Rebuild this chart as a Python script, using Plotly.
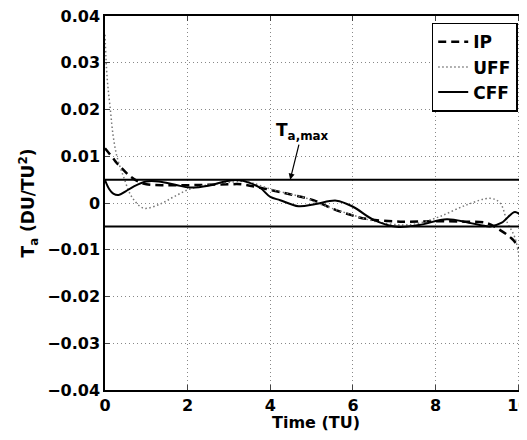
import plotly.graph_objects as go

# ---- data ----
t_ip = [0, 0.2, 0.29, 0.4, 0.57, 0.8, 1.0, 1.5, 2.0, 2.5, 3.0, 3.3, 3.9, 4.5, 5.04, 5.53, 6.0, 6.33,
        7.14, 8.0, 8.7, 9.24, 9.56, 9.84, 10.04, 10.21]
ip = [0.0117, 0.0095, 0.0085, 0.0075, 0.006, 0.0046, 0.004, 0.0038, 0.0038, 0.0039, 0.004, 0.004,
      0.003, 0.0018, 0.0006, -0.0013, -0.0027, -0.0034, -0.004, -0.0039, -0.004, -0.0043, -0.0058,
      -0.0076, -0.0097, -0.0115]

t_uff = [0, 0.05, 0.13, 0.2, 0.29, 0.45, 0.65, 0.93, 1.34, 1.66, 2.06, 2.6, 3.27, 3.43, 4.07, 4.88,
         5.13, 6.0, 6.57, 7.2, 7.6, 8.1, 8.75, 9.32, 9.56, 9.74, 9.9, 10.0, 10.05, 10.1, 10.15, 10.21]
uff = [0.036, 0.027, 0.0199, 0.0142, 0.0099, 0.0056, 0.0013, -0.0011, -0.0002, 0.0013, 0.003, 0.004,
       0.0046, 0.0046, 0.0028, 0.001, 0.0, -0.0026, -0.004, -0.0047, -0.0043, -0.0029, -0.0004, 0.001,
       0.0, -0.0043, -0.007, -0.0105, -0.015, -0.02, -0.026, -0.034]

t_cff = [0, 0.1, 0.2, 0.33, 0.5, 0.69, 1.0, 1.3, 1.7, 2.06, 2.5, 2.9, 3.2, 3.5, 3.76, 4.0, 4.24, 4.68,
         5.1, 5.6, 6.0, 6.5, 7.06, 7.6, 8.27, 8.8, 9.32, 9.6, 9.92, 10.1, 10.21]
cff = [0.0049, 0.003, 0.002, 0.0017, 0.0025, 0.0035, 0.0046, 0.0046, 0.0039, 0.0033, 0.0037, 0.0046,
       0.0049, 0.0043, 0.0032, 0.0013, 0.0006, -0.0007, -0.0002, 0.0005, -0.0008, -0.0036, -0.0051,
       -0.0047, -0.0035, -0.0042, -0.005, -0.0042, -0.0019, -0.003, -0.0047]

T_A_MAX = 0.005
x_ticks = [0, 2, 4, 6, 8, 10]
y_ticks = [-0.04, -0.03, -0.02, -0.01, 0, 0.01, 0.02, 0.03, 0.04]
y_tick_text = ["\u22120.04", "\u22120.03", "\u22120.02", "\u22120.01", "0", "0.01", "0.02", "0.03", "0.04"]

FONT = "DejaVu Sans"

fig = go.Figure()
fig.add_trace(go.Scatter(x=t_ip, y=ip, name="IP", mode="lines",
                         line=dict(color="black", width=2.5, dash="8px,5px", shape="spline")))
fig.add_trace(go.Scatter(x=t_uff, y=uff, name="UFF", mode="lines",
                         line=dict(color="#777777", width=1.5, dash="1.5px,2.5px", shape="spline")))
fig.add_trace(go.Scatter(x=t_cff, y=cff, name="CFF", mode="lines",
                         line=dict(color="black", width=2, shape="spline")))

for v in (T_A_MAX, -T_A_MAX):
    fig.add_hline(y=v, line=dict(color="black", width=2))

fig.add_annotation(x=4.48, y=T_A_MAX, xref="x", yref="y",
                   text="T<sub>a,max</sub>", showarrow=True, arrowhead=2, arrowsize=1,
                   arrowwidth=1.2, arrowcolor="black", ax=12, ay=-48, standoff=0,
                   font=dict(family=FONT, size=17, color="black", weight="bold"))

# the page draws the figure at an 8px offset (body margin)
fig.update_layout(
    width=519, height=424,
    margin=dict(l=97, r=0, t=8, b=42),
    paper_bgcolor="white", plot_bgcolor="white",
    font=dict(family=FONT, size=16, color="black", weight="bold"),
    showlegend=True,
    legend=dict(x=0.978, y=0.982, xanchor="right", yanchor="top",
                bordercolor="black", borderwidth=1.5, bgcolor="white",
                font=dict(family=FONT, size=17, color="black", weight="bold"),
                tracegroupgap=0),
)
fig.update_xaxes(range=[0, 10.21], tickvals=x_ticks, ticks="inside", ticklen=5,
                 ticklabeloverflow="allow", automargin=False,
                 showline=True, linecolor="black", linewidth=1.5, mirror="ticks",
                 showgrid=True, gridcolor="#888", gridwidth=1, griddash="1px,3px", zeroline=False,
                 tickfont=dict(family=FONT, size=16, weight="bold"),
                 title=dict(text="Time (TU)", standoff=4,
                            font=dict(family=FONT, size=16, weight="bold")))
fig.update_yaxes(range=[-0.04, 0.04], tickvals=y_ticks, ticktext=y_tick_text, ticks="inside",
                 ticklen=5, showline=True, linecolor="black", linewidth=1.5, mirror=False,
                 automargin=False, ticklabeloverflow="allow",
                 showgrid=True, gridcolor="#888", gridwidth=1, griddash="1px,3px", zeroline=False,
                 tickfont=dict(family=FONT, size=16, weight="bold"),
                 title=dict(text="T<sub>a</sub> (DU/TU<sup>2</sup>)", standoff=8,
                            font=dict(family=FONT, size=17, weight="bold")))

fig.write_html("out.html")
